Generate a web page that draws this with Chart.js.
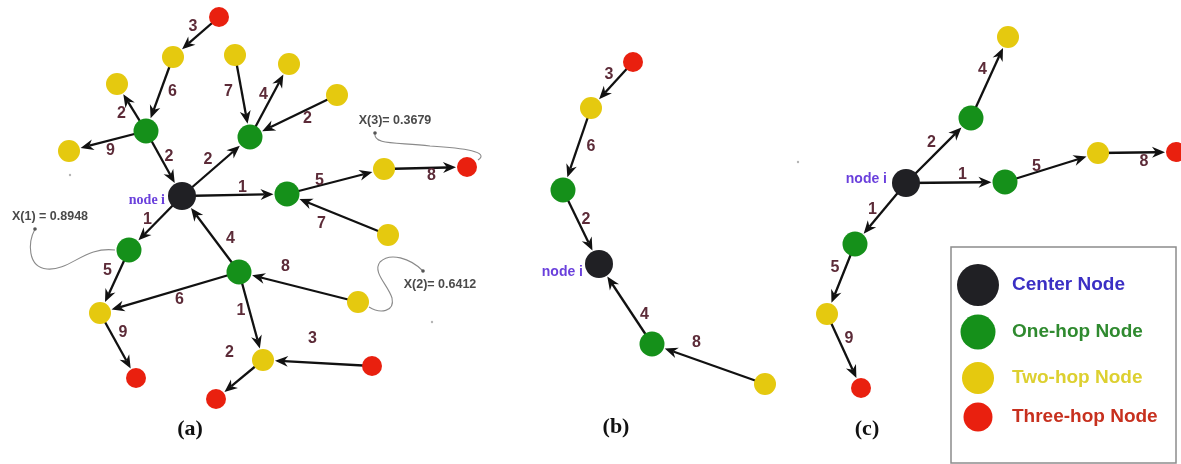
<!DOCTYPE html>
<html>
<head>
<meta charset="utf-8">
<script src="https://cdn.jsdelivr.net/npm/chart.js@4.4.1/dist/chart.umd.min.js"></script>
<style>
  html, body { margin: 0; padding: 0; background: #ffffff; }
  #wrap { width: 1181px; height: 464px; position: relative; }
</style>
</head>
<body>
<div id="wrap"><canvas id="graph"></canvas></div>
<script>
// ---- Graph data -------------------------------------------------------
// Nodes: [id, x, y, hop]   hop 0 = centre node, 1..3 = hop distance
const panelANodes = [
  ['aC', 182, 196, 0],
  ['aG1', 146, 131, 1], ['aG2', 250, 137, 1], ['aG3', 287, 194, 1],
  ['aG4', 239, 272, 1], ['aG5', 129, 250, 1],
  ['aYA', 173, 57, 2], ['aYB', 117, 84, 2], ['aYC', 69, 151, 2],
  ['aYD', 235, 55, 2], ['aYE', 289, 64, 2], ['aYF', 337, 95, 2],
  ['aYG', 384, 169, 2], ['aYI', 388, 235, 2], ['aYJ', 358, 302, 2],
  ['aYK', 263, 360, 2], ['aYN', 100, 313, 2],
  ['aRT', 219, 17, 3], ['aRH', 467, 167, 3], ['aRL', 372, 366, 3],
  ['aRM', 216, 399, 3], ['aRO', 136, 378, 3]
];
const panelBNodes = [
  ['bC', 599, 264, 0],
  ['bG1', 563, 190, 1], ['bG2', 652, 344, 1],
  ['bY1', 591, 108, 2], ['bY2', 765, 384, 2],
  ['bR1', 633, 62, 3]
];
const panelCNodes = [
  ['cC', 906, 183, 0],
  ['cGt', 971, 118, 1], ['cGr', 1005, 182, 1], ['cGd', 855, 244, 1],
  ['cYt', 1008, 37, 2], ['cYr', 1098, 153, 2], ['cYd', 827, 314, 2],
  ['cRr', 1176, 152, 3], ['cRd', 861, 388, 3]
];

// Directed, weighted edges: [from, to, weight]
const panelAEdges = [
  ['aRT', 'aYA', 3], ['aYA', 'aG1', 6], ['aG1', 'aYB', 2], ['aG1', 'aYC', 9],
  ['aG1', 'aC', 2], ['aC', 'aG2', 2], ['aYD', 'aG2', 7], ['aG2', 'aYE', 4],
  ['aYF', 'aG2', 2], ['aC', 'aG3', 1], ['aG3', 'aYG', 5], ['aYG', 'aRH', 8],
  ['aYI', 'aG3', 7], ['aC', 'aG5', 1], ['aG4', 'aC', 4], ['aYJ', 'aG4', 8],
  ['aG4', 'aYN', 6], ['aG4', 'aYK', 1], ['aRL', 'aYK', 3], ['aYK', 'aRM', 2],
  ['aG5', 'aYN', 5], ['aYN', 'aRO', 9]
];
const panelBEdges = [
  ['bR1', 'bY1', 3], ['bY1', 'bG1', 6], ['bG1', 'bC', 2],
  ['bG2', 'bC', 4], ['bY2', 'bG2', 8]
];
const panelCEdges = [
  ['cC', 'cGt', 2], ['cGt', 'cYt', 4], ['cC', 'cGr', 1], ['cGr', 'cYr', 5],
  ['cYr', 'cRr', 8], ['cC', 'cGd', 1], ['cGd', 'cYd', 5], ['cYd', 'cRd', 9]
];

// Weight label nudges (px, from edge midpoint), aligned with the edge lists
const panelALabelNudge = [
  [-3, -10], [13, -2], [-10, 6], [3, 10], [5, -7], [-8, -7], [-14, -4], [-6, -6],
  [14, 3], [8, -7], [-16, -1], [6, 8], [-16, 9], [-8, -3], [20, 5], [-13, -20],
  [10, 7], [-10, -5], [-5, -24], [-10, -27], [-7, -11], [5, -13]
];
const panelBLabelNudge = [[-3, -10], [14, -2], [5, -7], [19, 11], [-12, -21]];
const panelCLabelNudge = [[-7, -8], [-7, -8], [7, -8], [-15, -1], [7, 9], [-8, -4], [-6, -11], [5, -12]];

// Hop categories
const hopNames = ['Center Node', 'One-hop Node', 'Two-hop Node', 'Three-hop Node'];
const hopFill = ['#202024', '#15901a', '#e5c90f', '#e9200f'];
const hopText = ['#3b2fc4', '#2f8a2f', '#ddd030', '#c7301e'];
const hopRadius = [14, 12.5, 11, 10];

// Panel captions and centre-node labels
const panelCaptions = [['(a)', 190, 429], ['(b)', 616, 427], ['(c)', 867, 429]];
const centreLabels = [['node i', 165, 200, 'serif'], ['node i', 583, 272, 'sans'], ['node i', 887, 179, 'sans']];

// Value call-outs: text, text centre, and the curved leader (start + bezier segments)
const callouts = [
  { text: 'X(1) = 0.8948', at: [50, 217],
    path: [[115, 250], [85, 246, 70, 271, 47, 269], [27, 267, 28, 242, 35, 229]] },
  { text: 'X(3)= 0.3679', at: [395, 121],
    path: [[478, 160], [490, 152, 465, 148, 430, 146], [395, 142, 373, 145, 375, 133]] },
  { text: 'X(2)= 0.6412', at: [440, 285],
    path: [[369, 307], [380, 314, 395, 312, 392, 298], [388, 285, 372, 272, 380, 262], [390, 252, 410, 258, 423, 271]] }
];
const specks = [[70, 175], [432, 322], [798, 162]];

// ---- Build chart ------------------------------------------------------
const allNodes = [...panelANodes, ...panelBNodes, ...panelCNodes];
const nodeById = {};
allNodes.forEach(([id, x, y, hop]) => { nodeById[id] = { x, y, hop }; });
const edgeSets = [
  [panelAEdges, panelALabelNudge],
  [panelBEdges, panelBLabelNudge],
  [panelCEdges, panelCLabelNudge]
];

const datasets = hopNames.map((name, hop) => ({
  label: name,
  data: allNodes.filter(n => n[3] === hop).map(n => ({ x: n[1], y: n[2] })),
  pointRadius: hopRadius[hop],
  pointHoverRadius: hopRadius[hop],
  pointBackgroundColor: hopFill[hop],
  pointBorderColor: hopFill[hop],
  pointBorderWidth: 0,
  showLine: false,
  clip: false
}));

function arrow(ctx, x1, y1, x2, y2, rTarget) {
  const dx = x2 - x1, dy = y2 - y1, L = Math.hypot(dx, dy);
  const ux = dx / L, uy = dy / L;
  const tipX = x2 - ux * (rTarget + 1), tipY = y2 - uy * (rTarget + 1);
  const headLen = 13, headW = 5.5;
  const bx = tipX - ux * headLen, by = tipY - uy * headLen;
  ctx.beginPath();
  ctx.moveTo(x1, y1);
  ctx.lineTo(bx + ux * 4, by + uy * 4);
  ctx.stroke();
  ctx.beginPath();
  ctx.moveTo(tipX, tipY);
  ctx.lineTo(bx - uy * headW, by + ux * headW);
  ctx.lineTo(bx + ux * 4, by + uy * 4);
  ctx.lineTo(bx + uy * headW, by - ux * headW);
  ctx.closePath();
  ctx.fill();
}

const graphPlugin = {
  id: 'graphDecor',
  beforeDatasetsDraw(chart) {
    const ctx = chart.ctx, sx = chart.scales.x, sy = chart.scales.y;
    const px = v => sx.getPixelForValue(v), py = v => sy.getPixelForValue(v);
    ctx.save();
    // call-out leaders
    ctx.strokeStyle = '#8a8a8a';
    ctx.lineWidth = 1.1;
    callouts.forEach(c => {
      ctx.beginPath();
      ctx.moveTo(px(c.path[0][0]), py(c.path[0][1]));
      for (let i = 1; i < c.path.length; i++) {
        const s = c.path[i];
        ctx.bezierCurveTo(px(s[0]), py(s[1]), px(s[2]), py(s[3]), px(s[4]), py(s[5]));
      }
      ctx.stroke();
      const end = c.path[c.path.length - 1];
      ctx.fillStyle = '#555';
      ctx.beginPath();
      ctx.arc(px(end[4]), py(end[5]), 1.8, 0, Math.PI * 2);
      ctx.fill();
    });
    ctx.fillStyle = '#b5b5b5';
    specks.forEach(([x, y]) => { ctx.beginPath(); ctx.arc(px(x), py(y), 1.2, 0, Math.PI * 2); ctx.fill(); });
    // edges
    ctx.strokeStyle = '#111';
    ctx.fillStyle = '#111';
    ctx.lineWidth = 2.3;
    ctx.lineCap = 'butt';
    edgeSets.forEach(([edges]) => {
      edges.forEach(([f, t]) => {
        const a = nodeById[f], b = nodeById[t];
        arrow(ctx, px(a.x), py(a.y), px(b.x), py(b.y), hopRadius[b.hop]);
      });
    });
    ctx.restore();
  },
  afterDatasetsDraw(chart) {
    const ctx = chart.ctx, sx = chart.scales.x, sy = chart.scales.y;
    const px = v => sx.getPixelForValue(v), py = v => sy.getPixelForValue(v);
    ctx.save();
    ctx.textAlign = 'center';
    ctx.textBaseline = 'middle';
    // edge weights
    ctx.font = 'bold 16px "Liberation Sans", Arial, sans-serif';
    ctx.fillStyle = '#5c2b38';
    edgeSets.forEach(([edges, nudges]) => {
      edges.forEach(([f, t, w], i) => {
        const a = nodeById[f], b = nodeById[t];
        const mx = (px(a.x) + px(b.x)) / 2 + nudges[i][0];
        const my = (py(a.y) + py(b.y)) / 2 + nudges[i][1];
        ctx.fillText(String(w), mx, my);
      });
    });
    // centre-node labels
    ctx.textAlign = 'right';
    ctx.fillStyle = '#6a40dc';
    centreLabels.forEach(([txt, x, y, fam]) => {
      ctx.font = fam === 'serif'
        ? 'bold 14px "Liberation Serif", "DejaVu Serif", serif'
        : 'bold 14px "Liberation Sans", Arial, sans-serif';
      ctx.fillText(txt, px(x), py(y));
    });
    // call-out values
    ctx.textAlign = 'center';
    ctx.fillStyle = '#4a4a4a';
    ctx.font = 'bold 12.5px "Liberation Sans", Arial, sans-serif';
    callouts.forEach(c => ctx.fillText(c.text, px(c.at[0]), py(c.at[1])));
    // panel captions
    ctx.fillStyle = '#111';
    ctx.font = 'bold 22px "Liberation Serif", "Times New Roman", serif';
    panelCaptions.forEach(([t, x, y]) => ctx.fillText(t, px(x), py(y)));
    // legend box
    const lx0 = px(951), ly0 = py(247), lx1 = px(1176), ly1 = py(463);
    ctx.strokeStyle = '#8c8c8c';
    ctx.lineWidth = 1.5;
    ctx.strokeRect(lx0, ly0, lx1 - lx0, ly1 - ly0);
    const legendRows = [285, 332, 378, 417];
    const legendDot = [21, 17.5, 16, 14.5];
    ctx.textAlign = 'left';
    ctx.font = 'bold 19px "Liberation Sans", Arial, sans-serif';
    hopNames.forEach((name, i) => {
      ctx.fillStyle = hopFill[i];
      ctx.beginPath();
      ctx.arc(px(978), py(legendRows[i]), legendDot[i], 0, Math.PI * 2);
      ctx.fill();
      ctx.fillStyle = hopText[i];
      ctx.fillText(name, px(1012), py(legendRows[i]));
    });
    ctx.restore();
  }
};

new Chart(document.getElementById('graph'), {
  type: 'scatter',
  data: { datasets },
  options: {
    responsive: true,
    maintainAspectRatio: false,
    animation: false,
    layout: { padding: 0, autoPadding: false },
    plugins: { legend: { display: false }, tooltip: { enabled: false } },
    events: [],
    scales: {
      x: { type: 'linear', min: 0, max: 1181, display: false },
      y: { type: 'linear', min: 0, max: 464, reverse: true, display: false }
    }
  },
  plugins: [graphPlugin]
});
</script>
</body>
</html>
